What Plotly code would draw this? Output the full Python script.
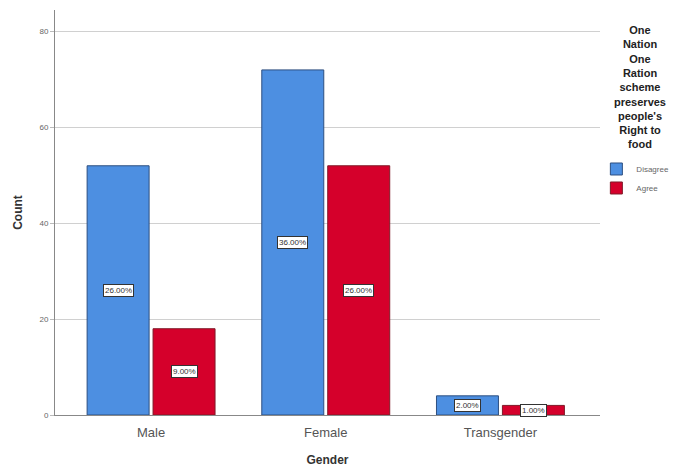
import plotly.graph_objects as go

categories = ["Male", "Female", "Transgender"]
disagree = [52, 72, 4]
agree = [18, 52, 2]
series_names = ["Disagree", "Agree"]
legend_title_lines = ["One", "Nation", "One", "Ration", "scheme", "preserves", "people's", "Right to", "food"]
y_ticks = [0, 20, 40, 60, 80]

total = sum(disagree) + sum(agree)
BLUE = "#4d8fe1"
BLUE_EDGE = "#2d4f80"
RED = "#d5002b"
RED_EDGE = "#7f1a28"
BARGAP = 0.245
BARGROUPGAP = 0.06
FONT = "Liberation Sans, Arial"

fig = go.Figure()
xs = list(range(len(categories)))
for name, vals, col, edge in [(series_names[0], disagree, BLUE, BLUE_EDGE),
                              (series_names[1], agree, RED, RED_EDGE)]:
    fig.add_trace(go.Bar(x=xs, y=vals, name=name, marker=dict(color=col, line=dict(color=edge, width=1))))

slot = (1 - BARGAP) / 2
annotations = []
for i in xs:
    for j, vals in enumerate([disagree, agree]):
        off = (-0.5 + j) * slot
        annotations.append(dict(
            x=i + off, y=vals[i] / 2, xref="x", yref="y",
            text=f"{vals[i] / total * 100:.2f}%", showarrow=False,
            font=dict(family=FONT, size=8, color="#333"),
            bgcolor="white", bordercolor="#333", borderwidth=1, borderpad=1))

annotations.append(dict(
    x=1.073, y=0.97, xref="paper", yref="paper", xanchor="center", yanchor="top",
    text="<br>".join(f"<b>{t}</b>" for t in legend_title_lines), showarrow=False, align="center",
    font=dict(family=FONT, size=11, color="#222")))

fig.update_layout(
    width=680, height=471,
    margin=dict(l=55, r=80, t=10, b=56, autoexpand=False),
    paper_bgcolor="white", plot_bgcolor="white",
    barmode="group", bargap=BARGAP, bargroupgap=BARGROUPGAP,
    showlegend=True,
    legend=dict(xref="container", yref="container", x=0.877, y=0.672, xanchor="left", yanchor="top",
                font=dict(family=FONT, size=8, color="#666"),
                itemwidth=30, tracegroupgap=0, bgcolor="rgba(0,0,0,0)"),
    annotations=annotations,
    xaxis=dict(
        tickmode="array", tickvals=xs, ticktext=categories,
        range=[-0.55, 2.57], showgrid=False, showline=True, linecolor="#888", linewidth=1,
        ticks="", ticklabelstandoff=5, tickfont=dict(family=FONT, size=13, color="#555"),
        title=dict(text="<b>Gender</b>", font=dict(family=FONT, size=12, color="#333"),
                   standoff=17)),
    yaxis=dict(
        range=[0, 84.5], tickvals=y_ticks, showgrid=True, gridcolor="#d0d0d0", gridwidth=1,
        showline=True, linecolor="#888", linewidth=1, ticks="outside", ticklen=4, tickcolor="#bbb",
        tickfont=dict(family=FONT, size=8, color="#666"), zeroline=False,
        title=dict(text="<b>Count</b>", font=dict(family=FONT, size=12, color="#333"),
                   standoff=14)),
)

fig.write_html("out.html", config={"displayModeBar": False},
               post_script="document.body.style.margin='0';")
